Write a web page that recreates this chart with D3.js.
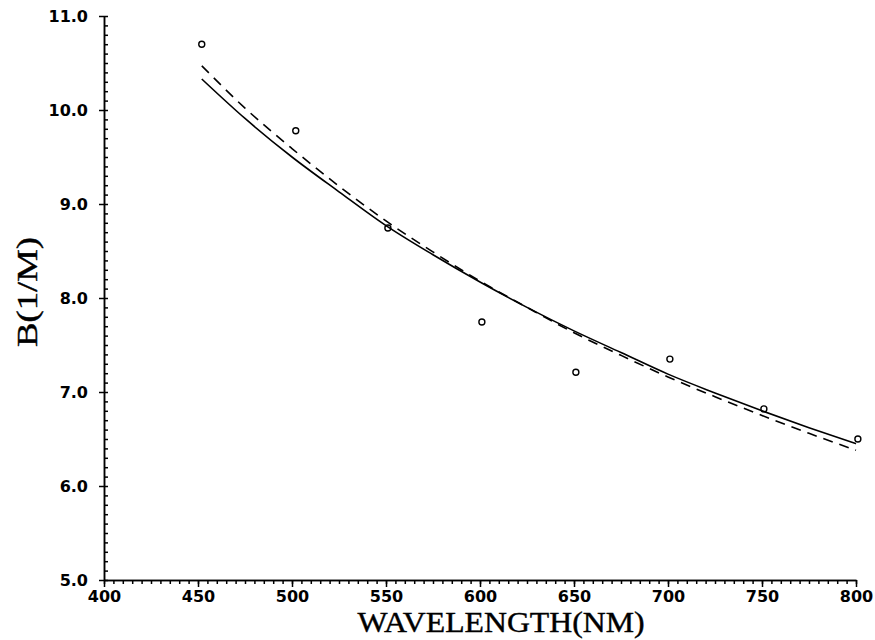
<!DOCTYPE html>
<html lang="en">
<head>
<meta charset="UTF-8">
<title>B vs wavelength</title>
<script src="https://d3js.org/d3.v7.min.js"></script>
<style>
  body { margin: 0; background: #fff; }
  .axis path, .axis line { stroke: #000; stroke-width: 1.5px; }
  .axis text { font-family: "DejaVu Sans", sans-serif; font-weight: bold; font-size: 16px; fill: #000; }
  .title { font-family: "Liberation Serif", serif; font-size: 29px; fill: #000; stroke: #000; stroke-width: 0.4px; }
</style>
</head>
<body>
<svg width="875" height="640"></svg>
<script>
  // measured points
  var wavelengths = [452, 502, 551, 601, 651, 701, 751, 801];
  var bValues = [10.70, 9.78, 8.745, 7.745, 7.21, 7.35, 6.82, 6.50];

  // solid curve
  var solidX = [452, 475, 500, 525, 550, 575, 600, 625, 650, 675, 700, 725, 750, 775, 800];
  var solidY = [10.33, 9.91, 9.50, 9.13, 8.77, 8.46, 8.17, 7.90, 7.65, 7.42, 7.19, 6.99, 6.80, 6.62, 6.45];

  // dashed curve
  var dashX = [452, 475, 500, 525, 550, 575, 600, 625, 650, 675, 700, 725, 750, 775, 800];
  var dashY = [10.47, 10.02, 9.59, 9.19, 8.82, 8.49, 8.18, 7.90, 7.63, 7.39, 7.16, 6.95, 6.75, 6.56, 6.38];

  var xMajor = [400, 450, 500, 550, 600, 650, 700, 750, 800];
  var yMajor = [5, 6, 7, 8, 9, 10, 11];

  var svg = d3.select("svg");

  var x = d3.scaleLinear().domain([400, 800]).range([104, 856]);
  var y = d3.scaleLinear().domain([5, 11]).range([580, 16]);

  // x axis: minor ticks every 5, major every 50
  svg.append("g").attr("class", "axis")
    .attr("transform", "translate(0,580)")
    .call(d3.axisBottom(x).tickValues(d3.range(400, 801, 5)).tickSize(4).tickSizeOuter(0).tickFormat(""));
  svg.append("g").attr("class", "axis")
    .attr("transform", "translate(0,580)")
    .call(d3.axisBottom(x).tickValues(xMajor).tickSize(7).tickSizeOuter(0).tickPadding(4).tickFormat(d3.format("d")));

  // y axis: minor ticks inside, major ticks crossing
  svg.append("g").attr("class", "axis")
    .attr("transform", "translate(104,0)")
    .call(d3.axisRight(y).tickValues(d3.range(50, 111, 1).map(function(d) { return d / 10; })).tickSize(4).tickSizeOuter(0).tickFormat(""));
  svg.append("g").attr("class", "axis")
    .attr("transform", "translate(104,0)")
    .call(d3.axisLeft(y).tickValues(yMajor).tickSize(5).tickSizeOuter(0).tickPadding(11).tickFormat(d3.format(".1f")));

  var line = d3.line()
    .x(function(d) { return x(d[0]); })
    .y(function(d) { return y(d[1]); })
    .curve(d3.curveMonotoneX);

  svg.append("path")
    .datum(d3.zip(solidX, solidY))
    .attr("d", line)
    .attr("fill", "none")
    .attr("stroke", "#000")
    .attr("stroke-width", 1.6);

  svg.append("path")
    .datum(d3.zip(dashX, dashY))
    .attr("d", line)
    .attr("fill", "none")
    .attr("stroke", "#000")
    .attr("stroke-width", 1.6)
    .attr("stroke-dasharray", "10,7");

  svg.selectAll("circle.pt")
    .data(d3.zip(wavelengths, bValues))
    .enter().append("circle")
    .attr("class", "pt")
    .attr("cx", function(d) { return x(d[0]); })
    .attr("cy", function(d) { return y(d[1]); })
    .attr("r", 3)
    .attr("fill", "none")
    .attr("stroke", "#000")
    .attr("stroke-width", 1.4);

  // axis titles
  svg.append("text").attr("class", "title")
    .attr("x", 501).attr("y", 632)
    .attr("text-anchor", "middle")
    .attr("textLength", 287).attr("lengthAdjust", "spacingAndGlyphs")
    .text("WAVELENGTH(NM)");

  svg.append("text").attr("class", "title")
    .attr("transform", "translate(37,292) rotate(-90)")
    .attr("text-anchor", "middle")
    .attr("textLength", 110).attr("lengthAdjust", "spacingAndGlyphs")
    .text("B(1/M)");
</script>
</body>
</html>
